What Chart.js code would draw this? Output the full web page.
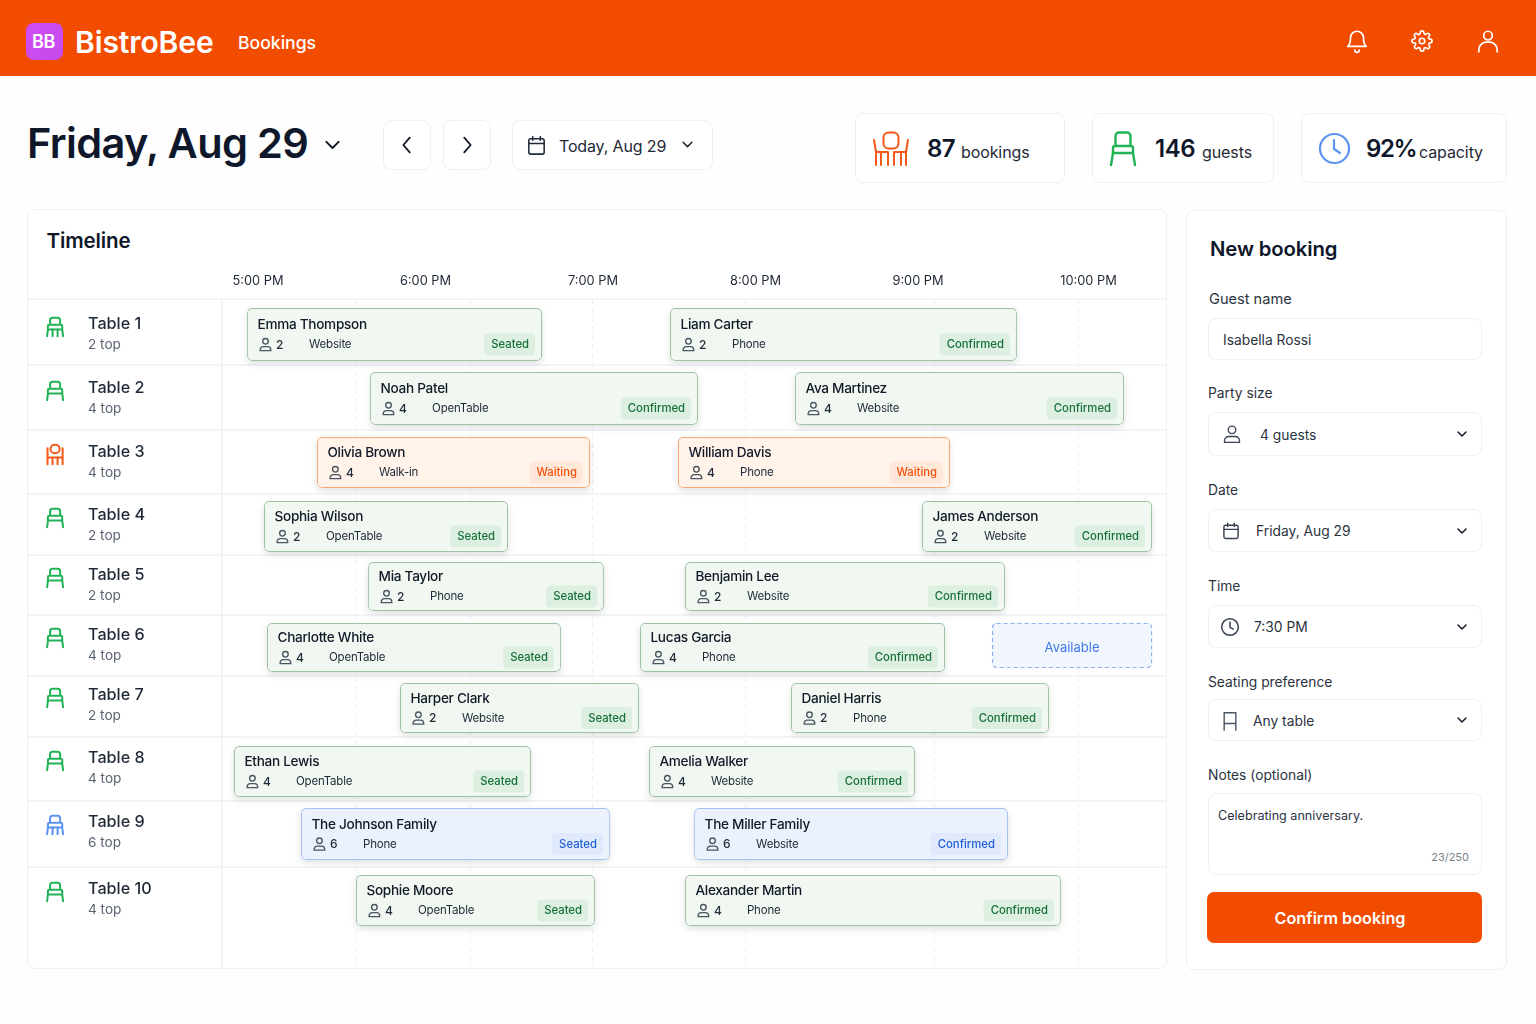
<!DOCTYPE html>
<html><head><meta charset="utf-8">
<script src="https://cdn.jsdelivr.net/npm/chart.js@4/dist/chart.umd.js"></script>
<style>
html,body{margin:0;padding:0;background:#fefefe;width:1536px;height:1024px;overflow:hidden;font-family:Inter,sans-serif;color:#111827}
.a{position:absolute}
.t{position:absolute;white-space:nowrap;line-height:1;transform:translateY(-50%)}
.box{position:absolute;box-sizing:border-box;background:#fff;border:1.5px solid #eff0f5;border-radius:8px}
.ic{position:absolute;fill:none;stroke-linecap:round;stroke-linejoin:round}
.lab{font-size:13.800px;color:#2b3340;margin-top:1px}
.val{font-size:13.800px;color:#2b3340;margin-top:1px}
.big{font-size:24px;font-weight:600;color:#0f172a;letter-spacing:-.5px}
.unit{font-size:16px;color:#1f2937;letter-spacing:-.1px}
</style></head><body>
<div class="a" style="left:0;top:0;width:1536px;height:76px;background:#f24c00"></div>
<div class="a" style="left:26px;top:23px;width:37px;height:37px;border-radius:8px;background:linear-gradient(135deg,#d04cf5,#c44bea)"></div>
<div class="t" style="left:32px;top:42px;font-size:18px;font-weight:600;color:#fff;letter-spacing:-.3px">BB</div>
<div class="t" style="left:75px;top:42px;font-size:30px;font-weight:600;color:#fff;letter-spacing:-.1px">BistroBee</div>
<div class="t" style="left:238px;top:43px;font-size:17.600px;font-weight:500;color:#fff">Bookings</div>
<svg class="ic" style="left:1344px;top:28px" width="26" height="26" viewBox="0 0 24 24" stroke="#fff" stroke-width="1.6"><path d="M6 9a6 6 0 0 1 12 0c0 6 2.500 8 2.500 8h-17S6 15 6 9M10 20.500a2 2 0 0 0 4 0"/></svg>
<svg class="ic" style="left:1411px;top:30px" width="22" height="22" viewBox="0 0 24 24" stroke="#fff" stroke-width="1.8"><circle cx="12" cy="12" r="3"/><path d="M19.400 15a1.650 1.650 0 0 0 .33 1.820l.06.06a2 2 0 1 1-2.830 2.830l-.06-.06a1.650 1.650 0 0 0-2.800 1.170V21a2 2 0 1 1-4 0v-.09a1.650 1.650 0 0 0-2.830-1.150l-.06.06a2 2 0 1 1-2.830-2.830l.06-.06A1.650 1.650 0 0 0 3.090 14H3a2 2 0 1 1 0-4h.09a1.650 1.650 0 0 0 1.150-2.830l-.06-.06a2 2 0 1 1 2.830-2.830l.06.06A1.650 1.650 0 0 0 10 3.090V3a2 2 0 1 1 4 0v.09a1.650 1.650 0 0 0 2.820 1.150l.06-.06a2 2 0 1 1 2.830 2.830l-.06.06A1.650 1.650 0 0 0 20.910 10H21a2 2 0 1 1 0 4h-.09a1.650 1.650 0 0 0-1.510 1z"/></svg>
<svg class="ic" style="left:1475px;top:28px" width="26" height="26" viewBox="0 0 24 24" stroke="#fff" stroke-width="1.6"><circle cx="12" cy="7" r="4"/><path d="M3.500 22v-2a7 7 0 0 1 7-7h3a7 7 0 0 1 7 7v2"/></svg>

<div class="t" style="left:27px;top:144px;font-size:41.500px;font-weight:600;color:#0f172a;letter-spacing:-.65px">Friday, Aug 29</div>
<svg class="ic" style="left:322px;top:134px" width="21" height="21" viewBox="0 0 24 24" stroke="#111827" stroke-width="2.200"><path d="M5 9l7 7 7-7"/></svg>
<div class="box" style="left:383px;top:120px;width:48px;height:50px"></div>
<svg class="ic" style="left:396px;top:134px" width="22" height="22" viewBox="0 0 24 24" stroke="#111827" stroke-width="2"><path d="M15 4l-7 8 7 8"/></svg>
<div class="box" style="left:443px;top:120px;width:48px;height:50px"></div>
<svg class="ic" style="left:456px;top:134px" width="22" height="22" viewBox="0 0 24 24" stroke="#111827" stroke-width="2"><path d="M9 4l7 8-7 8"/></svg>
<div class="box" style="left:512px;top:120px;width:201px;height:50px"></div>
<svg class="ic" style="left:525px;top:134px" width="23" height="23" viewBox="0 0 24 24" stroke="#1f2937" stroke-width="1.600"><rect x="4" y="5" width="16" height="16" rx="2"/><path d="M4 10h16M8 2.500v4M16 2.500v4"/></svg>
<div class="t" style="left:559px;top:146px;font-size:16px;letter-spacing:-.15px;color:#1f2937">Today, Aug 29</div>
<svg class="ic" style="left:681px;top:138px" width="13" height="13" viewBox="0 0 24 24" stroke="#111827" stroke-width="2.800"><path d="M4 8l8 8 8-8"/></svg>

<div class="box" style="left:855px;top:113px;width:210px;height:70px"></div>
<svg class="ic" style="left:873px;top:131px" width="36" height="36" viewBox="0 0 36 36" stroke="#f4591a" stroke-width="2"><rect x="10.500" y="1.500" width="15" height="16" rx="5"/><path d="M1 9l2 12v13M35 9l-2 12v13M3 21h12v13M33 21H21v13M8 21v13M28 21v13"/></svg>
<div class="t big" style="left:927px;top:149px">87</div>
<div class="t unit" style="left:961px;top:152px">bookings</div>
<div class="box" style="left:1092px;top:113px;width:182px;height:70px"></div>
<svg class="ic" style="left:1109px;top:131px" width="28" height="36" viewBox="0 0 28 36" stroke="#22b357" stroke-width="2.400"><path d="M6.500 15V5a3.500 3.500 0 0 1 3.500-3.500h8a3.500 3.500 0 0 1 3.500 3.500v10M6 15h16a2 2 0 0 1 2 2v5H4v-5a2 2 0 0 1 2-2M4 22L2 34M24 22l2 12"/></svg>
<div class="t big" style="left:1155px;top:149px">146</div>
<div class="t unit" style="left:1202px;top:152px">guests</div>
<div class="box" style="left:1301px;top:113px;width:206px;height:70px"></div>
<svg class="ic" style="left:1318px;top:132px" width="33" height="33" viewBox="0 0 33 33" stroke="#5c93f2" stroke-width="2.200"><circle cx="16.500" cy="16.500" r="14.500"/><path d="M16 8v9l6 4"/></svg>
<div class="t big" style="left:1366px;top:149px;letter-spacing:-1.400px">92%</div>
<div class="t unit" style="left:1419px;top:152px">capacity</div>

<div class="box" style="left:27px;top:209px;width:1140px;height:760px"></div>
<div class="t" style="left:46.500px;top:241px;font-size:20.500px;font-weight:600;letter-spacing:-.1px;color:#0f172a">Timeline</div>
<canvas id="timeline" class="a" style="left:27px;top:209px" width="1140" height="760"></canvas>

<div class="box" style="left:1186px;top:210px;width:321px;height:760px"></div>
<div class="t" style="left:1210px;top:249px;font-size:20.300px;font-weight:600;letter-spacing:-.1px;color:#0f172a">New booking</div>
<div class="t lab" style="left:1209px;top:298px;font-size:14.600px">Guest name</div>
<div class="box" style="left:1208px;top:318px;width:274px;height:42px"></div>
<div class="t val" style="left:1223px;top:340px">Isabella Rossi</div>
<div class="t lab" style="left:1208px;top:393px">Party size</div>
<div class="box" style="left:1208px;top:412px;width:274px;height:44px"></div>
<svg class="ic" style="left:1222px;top:424px" width="20" height="20" viewBox="0 0 24 24" stroke="#374151" stroke-width="1.600"><circle cx="12" cy="7" r="4.500"/><path d="M3 22v-2a5 5 0 0 1 5-5h8a5 5 0 0 1 5 5v2z"/></svg>
<div class="t val" style="left:1260px;top:435px">4 guests</div>
<div class="t lab" style="left:1208px;top:490px">Date</div>
<div class="box" style="left:1208px;top:509px;width:274px;height:43px"></div>
<svg class="ic" style="left:1221px;top:521px" width="20" height="20" viewBox="0 0 24 24" stroke="#374151" stroke-width="1.700"><rect x="3.500" y="5" width="17" height="16" rx="2"/><path d="M3.500 10h17M8 2.500v4M16 2.500v4"/></svg>
<div class="t val" style="left:1256px;top:531px">Friday, Aug 29</div>
<div class="t lab" style="left:1208px;top:586px">Time</div>
<div class="box" style="left:1208px;top:605px;width:274px;height:43px"></div>
<svg class="ic" style="left:1220px;top:617px" width="20" height="20" viewBox="0 0 24 24" stroke="#374151" stroke-width="1.800"><circle cx="12" cy="12" r="10"/><path d="M12 6v6.500l4 2"/></svg>
<div class="t val" style="left:1254px;top:627px">7:30 PM</div>
<div class="t lab" style="left:1208px;top:682px">Seating preference</div>
<div class="box" style="left:1208px;top:699px;width:274px;height:42px"></div>
<svg class="ic" style="left:1220px;top:711px" width="20" height="20" viewBox="0 0 24 24" stroke="#4b5563" stroke-width="1.700"><path d="M5 2h14v13H5zM5 15v8M19 15v8M5 8.500"/></svg>
<div class="t val" style="left:1253px;top:721px">Any table</div>
<div class="t lab" style="left:1208px;top:775px">Notes (optional)</div>
<div class="box" style="left:1208px;top:793px;width:274px;height:82px"></div>
<div class="t" style="left:1218px;top:816px;font-size:12.600px;color:#2b3340">Celebrating anniversary.</div>
<div class="t" style="right:67px;top:857px;font-size:11px;color:#7a818c">23/250</div>
<svg class="ic cv" style="left:1456px;top:428px" width="12" height="12" viewBox="0 0 24 24" stroke="#111827" stroke-width="3"><path d="M4 8l8 8 8-8"/></svg>
<svg class="ic cv" style="left:1456px;top:525px" width="12" height="12" viewBox="0 0 24 24" stroke="#111827" stroke-width="3"><path d="M4 8l8 8 8-8"/></svg>
<svg class="ic cv" style="left:1456px;top:621px" width="12" height="12" viewBox="0 0 24 24" stroke="#111827" stroke-width="3"><path d="M4 8l8 8 8-8"/></svg>
<svg class="ic cv" style="left:1456px;top:714px" width="12" height="12" viewBox="0 0 24 24" stroke="#111827" stroke-width="3"><path d="M4 8l8 8 8-8"/></svg>
<div class="a" style="left:1207px;top:892px;width:275px;height:51px;border-radius:7px;background:#f24c00"></div>
<div class="t" style="left:1207px;width:266px;text-align:center;top:918px;font-size:16.200px;font-weight:600;color:#fff">Confirm booking</div>

<script>
// ---- data (times in decimal hours, 12h clock PM)
const tables = ['Table 1','Table 2','Table 3','Table 4','Table 5','Table 6','Table 7','Table 8','Table 9','Table 10'];
const capacities = ['2 top','4 top','4 top','2 top','2 top','4 top','2 top','4 top','6 top','4 top'];
const hourTicks = [5,6,7,8,9,10];
const hourLabels = ['5:00 PM','6:00 PM','7:00 PM','8:00 PM','9:00 PM','10:00 PM'];

const firstGuests = ['Emma Thompson','Noah Patel','Olivia Brown','Sophia Wilson','Mia Taylor','Charlotte White','Harper Clark','Ethan Lewis','The Johnson Family','Sophie Moore'];
const firstParty = [2,4,4,2,2,4,2,4,6,4];
const firstSource = ['Website','OpenTable','Walk-in','OpenTable','Phone','OpenTable','Website','OpenTable','Phone','OpenTable'];
const firstStatus = ['Seated','Confirmed','Waiting','Seated','Seated','Seated','Seated','Seated','Seated','Seated'];
const firstStart = [4.934,5.675,5.355,5.036,5.663,5.054,5.855,4.855,5.259,5.590];
const firstEnd = [6.711,7.651,7.000,6.506,7.084,6.825,7.295,6.645,7.120,7.030];

const secondGuests = ['Liam Carter','Ava Martinez','William Davis','James Anderson','Benjamin Lee','Lucas Garcia','Daniel Harris','Amelia Walker','The Miller Family','Alexander Martin'];
const secondParty = [2,4,4,2,2,4,2,4,6,4];
const secondSource = ['Phone','Website','Phone','Website','Website','Phone','Phone','Website','Website','Phone'];
const secondStatus = ['Confirmed','Confirmed','Waiting','Confirmed','Confirmed','Confirmed','Confirmed','Confirmed','Confirmed','Confirmed'];
const secondStart = [7.482,8.235,7.530,9.000,7.572,7.301,8.211,7.355,7.627,7.572];
const secondEnd = [9.572,10.217,9.169,10.386,9.500,9.139,9.765,8.958,9.518,9.837];

const availableRow = 5;
const availableStart = 9.422;
const availableEnd = 10.386;
const minorHours = [5.590,6.277,7.012,7.934,9.072,9.940];

// ---- layout (pixels relative to the plot top) and styles
const rowEdges = [0,66,131,195,256,316,377,438,502,568];
const rowCenters = [35.5,99.5,163.5,227.5,287.5,348.5,409,472.5,535,601.5];
const rowBarHeights = [53,53,51,51,49,49,50,51,52,51];
const labelNudge = [-10.5,-10.5,-10.5,-11.5,-11.5,-12.5,-13,-13.5,-12,-11.5];
const hourNudge = [0,1.5,3,-.5,-4,.5];
const chairVariant = [1,0,2,0,0,0,0,0,1,0];
const tones = {
  green:{fill:'#f1f7f1',line:'#9fc3a2',badge:'#dcefe0',text:'#16703a',icon:'#22b357'},
  orange:{fill:'#fff3ea',line:'#f8a877',badge:'#ffe8d9',text:'#f2500a',icon:'#f4591a'},
  blue:{fill:'#ebf2fe',line:'#a3c1f3',badge:'#e0eafc',text:'#1f5fd8',icon:'#5c93f2'}
};
const toneOf = (status,row)=> status==='Waiting'?'orange':(capacities[row]==='6 top'?'blue':'green');
const iconTone = r => capacities[r]==='6 top'?'blue':(firstStatus[r]==='Waiting'?'orange':'green');

const range = (a,b)=>a.map((v,i)=>[v,b[i]]);
const chair = new Path2D('M6 10.500V5a3 3 0 0 1 3-3h6a3 3 0 0 1 3 3v5.500M5 10.500h14a1.500 1.500 0 0 1 1.500 1.500v4h-17v-4a1.500 1.500 0 0 1 1.500-1.500M3.500 16L2.500 24M20.500 16l1 8');
const chairLegs = new Path2D('M9 16v8M15 16v8');
const chairRound = new Path2D('M6.500 6a5.500 5 0 0 1 11 0a5.500 5 0 0 1-11 0M3 5v11h18V5M3 16v8M21 16v8M9 16v8M15 16v8');
const person = new Path2D('M12 2.500a4.500 4.500 0 1 1 0 9a4.500 4.500 0 0 1 0-9M3.500 22v-1.500a5 5 0 0 1 5-5h7a5 5 0 0 1 5 5V22z');

class RowScale extends Chart.CategoryScale {
  static id='rows';
  static defaults=Chart.CategoryScale.defaults;
  getPixelForValue(value){
    const v = typeof value==='number'?value:this.parse(value);
    return v===null?NaN:this.top+rowCenters[v];
  }
  _computeLabelItems(area){
    const items = super._computeLabelItems(area);
    items.forEach((it,i)=>{it.options.translation[1]+=labelNudge[i];});
    return items;
  }
}
class HourScale extends Chart.LinearScale {
  static id='hours';
  static defaults=Chart.LinearScale.defaults;
  _computeLabelItems(area){
    const items = super._computeLabelItems(area);
    items.forEach((it,i)=>{it.options.translation[0]+=hourNudge[i];});
    return items;
  }
}
Chart.register(RowScale,HourScale);

function rr(ctx,x,y,w,h,r){ctx.beginPath();ctx.roundRect(x,y,w,h,r);}
function text(ctx,s,x,y,font,color,align,ls){ctx.font=font;ctx.letterSpacing=ls||'0px';ctx.fillStyle=color;ctx.textAlign=align||'left';ctx.textBaseline='middle';ctx.fillText(s,x,y);ctx.letterSpacing='0px';}

const timelinePlugin = {
  id:'timeline',
  afterDatasetsUpdate(chart){
    chart.data.datasets.forEach((ds,d)=>{
      chart.getDatasetMeta(d).data.forEach((el,i)=>{
        if(ds.label==='Available'){el.height=45;el.y-=2;}
        else el.height=rowBarHeights[i];
      });
    });
  },
  beforeDatasetsDraw(chart){
    const {ctx,chartArea:ca,scales:{x,y}}=chart;
    ctx.save();
    ctx.strokeStyle='#eff0f5';ctx.lineWidth=1.5;
    rowEdges.forEach(e=>{ctx.beginPath();ctx.moveTo(1,ca.top+e);ctx.lineTo(ca.right-1,ca.top+e);ctx.stroke();});
    ctx.strokeStyle='#eff0f4';ctx.lineWidth=1;ctx.setLineDash([5,4]);
    minorHours.forEach(h=>{const p=Math.round(x.getPixelForValue(h))+.5;ctx.beginPath();ctx.moveTo(p,ca.top);ctx.lineTo(p,ca.bottom-1);ctx.stroke();});
    ctx.setLineDash([]);
    // soft shadows below the bars
    ctx.shadowColor='rgba(60,80,70,.16)';ctx.shadowBlur=7;ctx.shadowOffsetY=3;ctx.fillStyle='#fff';
    chart.data.datasets.forEach((ds,d)=>{
      if(ds.label==='Available')return;
      chart.getDatasetMeta(d).data.forEach(el=>{
        const left=Math.min(el.x,el.base),w=Math.abs(el.x-el.base);
        rr(ctx,left,el.y-el.height/2,w,el.height,5);ctx.fill();
      });
    });
    ctx.restore();
  },
  afterDatasetsDraw(chart){
    const {ctx}=chart;
    ctx.save();
    chart.data.datasets.forEach((ds,d)=>{
      chart.getDatasetMeta(d).data.forEach((el,i)=>{
        const left=Math.min(el.x,el.base),right=Math.max(el.x,el.base);
        if(ds.label==='Available'){
          if(i!==availableRow)return;
          ctx.strokeStyle='#8fb2ef';ctx.lineWidth=1.2;ctx.setLineDash([4,3]);
          rr(ctx,left+.5,el.y-el.height/2+.5,right-left-1,el.height-1,4);ctx.stroke();ctx.setLineDash([]);
          text(ctx,'Available',(left+right)/2,el.y+3,'400 13px Inter','#3f78e8','center');
          return;
        }
        const tone=tones[toneOf(ds.statuses[i],i)];
        text(ctx,ds.guests[i],left+10.5,el.y-9.5,'500 13.600px Inter','#111827','left','-.3px');
        ctx.save();ctx.translate(left+11,el.y+2.500);ctx.scale(.62,.62);ctx.strokeStyle='#4b5563';ctx.lineWidth=2.2;ctx.stroke(person);ctx.restore();
        text(ctx,String(ds.party[i]),left+29,el.y+10.5,'500 12px Inter','#1f2937');
        text(ctx,ds.sources[i],left+62,el.y+10.5,'400 11.500px Inter','#1f2937','left','-.2px');
        const st=ds.statuses[i];
        ctx.font='500 11.300px Inter';
        const tw=ctx.measureText(st).width,bw=tw+13,bx=right-7-bw;
        ctx.fillStyle=tone.badge;rr(ctx,bx,el.y-1,bw,22,4);ctx.fill();
        text(ctx,st,bx+7,el.y+10.5,'500 11.300px Inter',tone.text);
      });
    });
    // table column: capacity text and chair icon for every row
    const ys=chart.scales.y;
    tables.forEach((t,i)=>{
      const ly=ys.getPixelForValue(i)+labelNudge[i];
      text(ctx,capacities[i],61,ly+21,'400 13.600px Inter','#5b6472');
      ctx.save();ctx.translate(18,ly-8);ctx.scale(.84,.84);ctx.strokeStyle=tones[iconTone(i)].icon;ctx.lineWidth=2.400;ctx.lineCap='round';ctx.lineJoin='round';
      if(chairVariant[i]===2){ctx.stroke(chairRound);}else{ctx.stroke(chair);if(chairVariant[i]===1)ctx.stroke(chairLegs);}
      ctx.restore();
    });
    ctx.restore();
  }
};

const fillFor = statuses => c => tones[toneOf(statuses[c.dataIndex],c.dataIndex)].fill;
const lineFor = statuses => c => tones[toneOf(statuses[c.dataIndex],c.dataIndex)].line;
const common = {borderWidth:1.2,borderRadius:5,borderSkipped:false,barThickness:52,inflateAmount:0};

new Chart(document.getElementById('timeline'),{
  type:'bar',
  data:{labels:tables,datasets:[
    {label:'First seating',data:range(firstStart,firstEnd),guests:firstGuests,party:firstParty,sources:firstSource,statuses:firstStatus,
     backgroundColor:fillFor(firstStatus),borderColor:lineFor(firstStatus),...common},
    {label:'Second seating',data:range(secondStart,secondEnd),guests:secondGuests,party:secondParty,sources:secondSource,statuses:secondStatus,
     backgroundColor:fillFor(secondStatus),borderColor:lineFor(secondStatus),...common},
    {label:'Available',data:tables.map((t,i)=>i===availableRow?[availableStart,availableEnd]:null),
     backgroundColor:'#f1f5fe',borderWidth:0,borderRadius:4,borderSkipped:false,barThickness:45,inflateAmount:0}
  ]},
  options:{
    indexAxis:'y',responsive:false,animation:false,events:[],
    layout:{padding:{left:61,top:50,right:0,bottom:0}},
    datasets:{bar:{grouped:false}},
    plugins:{legend:{display:false},tooltip:{enabled:false}},
    scales:{
      x:{type:'hours',position:'top',min:4.783,max:10.476,
        grid:{display:false,tickLength:0},border:{display:false},
        afterBuildTicks:s=>{s.ticks=hourTicks.map(v=>({value:v}));},
        afterFit:s=>{s.height=40;s.paddingLeft=0;s.paddingRight=0;},
        ticks:{autoSkip:false,maxRotation:0,padding:10,color:'#1f2937',font:{family:'Inter',size:12.800},
          callback:v=>hourLabels[hourTicks.indexOf(v)]}},
      y:{type:'rows',position:'left',
        grid:{display:false,tickLength:0},border:{display:true,color:'#eff0f5',width:1.5},
        afterFit:s=>{s.width=134;s.paddingTop=0;s.paddingBottom=0;},
        ticks:{crossAlign:'far',autoSkip:false,color:'#1f2937',font:{family:'Inter',size:16.200,weight:'500'},padding:0}}
    }
  },
  plugins:[timelinePlugin]
});
</script>
</body></html>
